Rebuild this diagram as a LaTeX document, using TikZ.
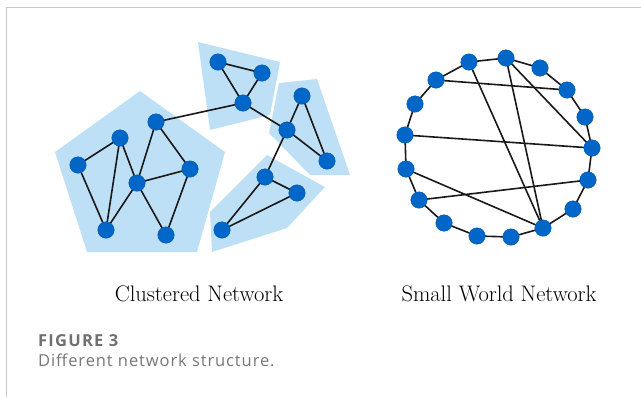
\documentclass[tikz,border=0pt]{standalone}
\usepackage{fontspec}
\setsansfont{Open Sans}
\pgfdeclarelayer{hulls}
\pgfdeclarelayer{links}
\pgfsetlayers{hulls,links,main}
\begin{document}
\begin{tikzpicture}[x=1pt,y=-1pt,
  vtx/.style={circle,fill=nodeblue,draw=nodeblue!85!black,line width=0.4pt,minimum size=16.5pt,inner sep=0pt},
  lnk/.style={line width=1.6pt,black!90},
  hull/.style={fill=hullblue,draw=none},
  lbl/.style={font=\fontsize{22.5}{26}\selectfont,anchor=base,inner sep=0pt},
]
\definecolor{nodeblue}{HTML}{0066C8}
\definecolor{hullblue}{HTML}{BEE0F7}
\definecolor{frame}{HTML}{C8C8C8}
\definecolor{capgray}{HTML}{707070}
\useasboundingbox (0,0) rectangle (641,397);
% panel frame
\draw[frame,line width=1.4pt] (6.5,397) -- (6.5,7.5) -- (641,7.5);

% cluster hulls
\begin{pgfonlayer}{hulls}
\fill[hull] (140,91) -- (225,152) -- (197,252) -- (87,252) -- (55,152) -- cycle;
\fill[hull] (198,42) -- (280,62) -- (270,115) -- (210,130) -- cycle;
\fill[hull] (279,83) -- (317,79) -- (350,175) -- (310,175) -- (269,133) -- cycle;
\fill[hull] (267,155) -- (325,187) -- (287,228) -- (212,252) -- (210,212) -- cycle;
\end{pgfonlayer}

% clustered network
\node[vtx] (a) at (78,165) {};
\node[vtx] (b) at (120,138) {};
\node[vtx] (c) at (156,122) {};
\node[vtx] (d) at (137,183) {};
\node[vtx] (e) at (190,169) {};
\node[vtx] (f) at (106,230) {};
\node[vtx] (g) at (166,235) {};
\node[vtx] (h1) at (218,62) {};
\node[vtx] (h2) at (262,73) {};
\node[vtx] (h3) at (243,103) {};
\node[vtx] (r1) at (302,96) {};
\node[vtx] (r2) at (287,130) {};
\node[vtx] (r3) at (327,161) {};
\node[vtx] (l1) at (265,177) {};
\node[vtx] (l2) at (297,193) {};
\node[vtx] (l3) at (222,230) {};

% small world network (ring of 17)
\foreach \i/\p in {1/{469,62},2/{506,58},3/{540,68},4/{567,90},5/{585,117},
                   6/{592,148},7/{588,180},8/{573,209},9/{543,228},10/{511,237},
                   11/{477,236},12/{444,223},13/{419,200},14/{406,169},15/{405,135},
                   16/{415,104},17/{436,80}}
  \node[vtx] (w\i) at (\p) {};

\begin{pgfonlayer}{links}
\foreach \u/\v in {a/b,a/f,b/f,b/d,c/d,c/e,d/e,d/f,d/g,e/g,
                   h1/h2,h1/h3,h2/h3,h3/c,h3/r2,
                   r1/r2,r1/r3,r2/r3,r2/l1,
                   l1/l2,l1/l3,l2/l3}
  \draw[lnk] (\u.center) -- (\v.center);
\foreach \u/\v in {1/2,2/3,3/4,4/5,5/6,6/7,7/8,8/9,9/10,10/11,11/12,12/13,13/14,
                   14/15,15/16,16/17,17/1,
                   17/4,15/6,13/7,14/9,1/9,2/9,2/6}
  \draw[lnk] (w\u.center) -- (w\v.center);
\end{pgfonlayer}

% titles
\node[lbl] (t1) at (199,301) {Clustered Network};
\node[lbl] (t2) at (499,301) {Small World Network};

% caption
\node[anchor=base west,inner sep=0pt,text=capgray,font=\sffamily\bfseries\fontsize{16.5}{18}\selectfont\addfontfeatures{LetterSpace=7.5}] (fig) at (38,346.5) {FIGURE 3};
\node[anchor=base west,inner sep=0pt,text=capgray!95!white,font=\sffamily\fontsize{16.5}{18}\selectfont\addfontfeatures{LetterSpace=5.5}] (cap) at (38,366.5) {Different network structure.};
\end{tikzpicture}
\end{document}
